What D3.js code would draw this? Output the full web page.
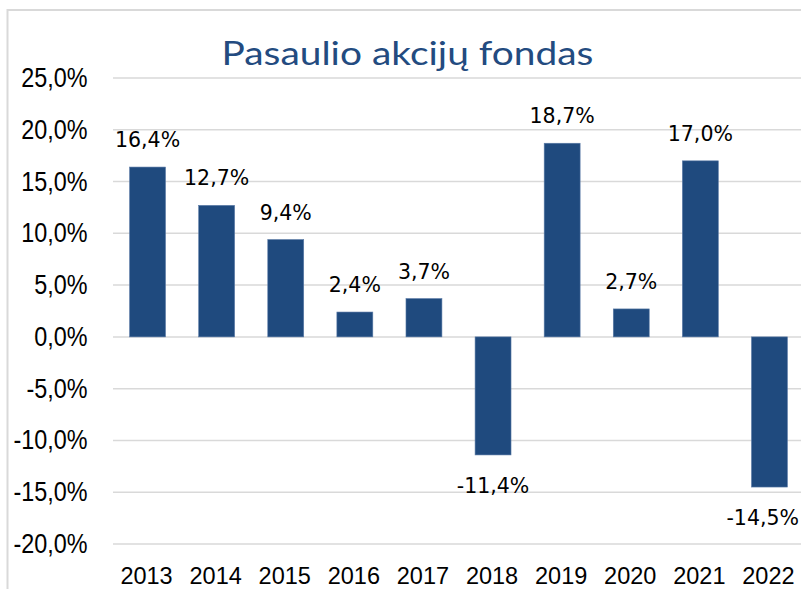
<!DOCTYPE html>
<html>
<head>
<meta charset="utf-8">
<script src="https://cdn.jsdelivr.net/npm/d3@7"></script>
<style>
  html, body { margin: 0; padding: 0; background: #fff; }
  svg { display: block; }
</style>
</head>
<body>
<script>
// chart data
var years = ['2013', '2014', '2015', '2016', '2017', '2018', '2019', '2020', '2021', '2022'];
var returns = [16.4, 12.7, 9.4, 2.4, 3.7, -11.4, 18.7, 2.7, 17.0, -14.5];
var yTicks = [25, 20, 15, 10, 5, 0, -5, -10, -15, -20];
var title = 'Pasaulio akcijų fondas';

var width = 801, height = 589;
var barColor = '#1f4a7e', gridColor = '#d9d9d9';

// lithuanian style: comma decimal, plain hyphen minus
var lt = d3.formatLocale({ decimal: ',', thousands: ' ', grouping: [3], currency: ['', ' €'], minus: '-' });
var fmt = function(v) { return lt.format('.1f')(v) + '%'; };

var svg = d3.select('body').append('svg')
	.attr('width', width)
	.attr('height', height);

// outer frame (left + top edges visible)
svg.append('path')
	.attr('d', 'M7.5,' + height + 'V10H' + width)
	.attr('fill', 'none')
	.attr('stroke', gridColor)
	.attr('stroke-width', 2);

var x = d3.scaleBand()
	.domain(years)
	.range([113, 804])
	.paddingInner(0.48)
	.paddingOuter(0.24);

var y = d3.scaleLinear()
	.domain([-20, 25])
	.range([544, 78]);

// gridlines
svg.append('g').selectAll('line')
	.data(yTicks)
	.enter().append('line')
	.attr('x1', 113)
	.attr('x2', width)
	.attr('y1', function(d) { return y(d); })
	.attr('y2', function(d) { return y(d); })
	.attr('stroke', gridColor)
	.attr('stroke-width', 1.5);

// y tick labels
svg.append('g').selectAll('text')
	.data(yTicks)
	.enter().append('text')
	.attr('transform', function(d) { return 'translate(87.5,' + (y(d) + 9) + ') scale(0.85,1)'; })
	.attr('text-anchor', 'end')
	.attr('font-family', 'Liberation Sans, Arial, sans-serif')
	.attr('font-size', 27.5)
	.attr('fill', '#000')
	.text(fmt);

// bars
svg.append('g').selectAll('rect')
	.data(returns)
	.enter().append('rect')
	.attr('x', function(d, i) { return x(years[i]); })
	.attr('width', x.bandwidth())
	.attr('y', function(d) { return y(Math.max(0, d)); })
	.attr('height', function(d) { return Math.abs(y(d) - y(0)); })
	.attr('fill', barColor)
	.attr('stroke', '#5a7aa6')
	.attr('stroke-width', 0.6);

// value labels
var labels = svg.append('g').selectAll('text')
	.data(returns)
	.enter().append('text')
	.attr('x', function(d, i) { return x(years[i]) + x.bandwidth() / 2; })
	.attr('y', function(d) { return d >= 0 ? y(d) - 20 : y(d) + 38; })
	.attr('text-anchor', 'middle')
	.attr('font-family', 'DejaVu Sans, sans-serif')
	.attr('font-size', 20.5)
	.attr('fill', '#000')
	.text(fmt);

// keep labels inside the picture
labels.each(function() {
	var b = this.getBBox();
	if (b.x + b.width > width - 2) {
		d3.select(this).attr('x', +d3.select(this).attr('x') - (b.x + b.width - (width - 2)));
	}
});

// year labels
svg.append('g').selectAll('text')
	.data(years)
	.enter().append('text')
	.attr('x', function(d) { return x(d) + x.bandwidth() / 2 - 1; })
	.attr('y', 584)
	.attr('text-anchor', 'middle')
	.attr('font-family', 'Liberation Sans, Arial, sans-serif')
	.attr('font-size', 23.5)
	.attr('fill', '#000')
	.text(function(d) { return d; });

// title
var t = svg.append('text')
	.attr('x', 407.5)
	.attr('y', 65)
	.attr('text-anchor', 'middle')
	.attr('font-family', 'Lato, sans-serif')
	.attr('font-size', 32.5)
	.attr('fill', '#234b80')
	.text(title);
var tw = t.node().getComputedTextLength();
t.attr('transform', 'translate(407.5,0) scale(' + (372 / tw) + ',1) translate(-407.5,0)');
</script>
</body>
</html>
